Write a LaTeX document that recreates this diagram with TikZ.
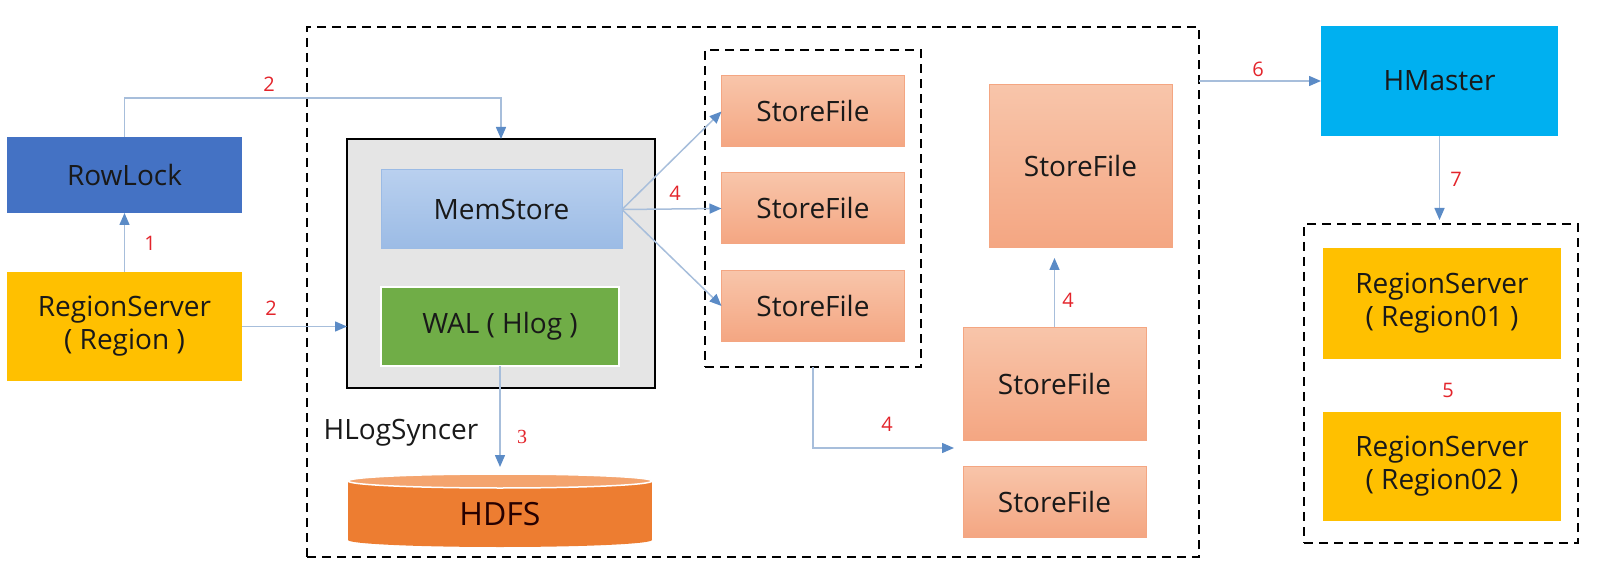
\documentclass[tikz,border=0pt]{standalone}
\usepackage{fontspec}
\setmainfont{Open Sans}
\newfontfamily\numserif{Liberation Serif}
\usetikzlibrary{arrows.meta}
\definecolor{rowblue}{HTML}{4472C4}
\definecolor{rsyellow}{HTML}{FFC000}
\definecolor{hmblue}{HTML}{00B0F0}
\definecolor{walgreen}{HTML}{70AD47}
\definecolor{memtop}{HTML}{B9D0EF}
\definecolor{membot}{HTML}{9BBBE5}
\definecolor{sftop}{HTML}{F8C5AA}
\definecolor{sfbot}{HTML}{F4A682}
\definecolor{hdfsbody}{HTML}{ED7D31}
\definecolor{hdfstop}{HTML}{F4A46E}
\definecolor{lineblue}{HTML}{A7BEDB}
\definecolor{tipblue}{HTML}{5B8BC6}
\definecolor{numred}{HTML}{E3242B}

\begin{document}
\begin{tikzpicture}[x=1pt, y=-1pt,
			block/.style      = {rectangle, inner sep=0pt, outer sep=0pt, text=black!90, align=center, font=\fontsize{28}{33}\selectfont},
			store_file/.style = {block, top color=sftop, bottom color=sfbot, draw=sfbot, line width=1pt, minimum width=183pt},
			group_box/.style  = {draw, black, line width=2pt, dash pattern=on 9pt off 6pt, inner sep=0pt, outer sep=0pt},
			flow/.style       = {draw=lineblue, line width=1.5pt, -{Triangle[length=12pt, width=10pt, color=tipblue]}},
			num/.style        = {text=numred, inner sep=0pt, font=\fontsize{20}{24}\selectfont},]
			
			\useasboundingbox (0,0) rectangle (1610,580);
			
			%% LEFT SIDE: CLIENT REQUEST
			\node[block, fill=rowblue, minimum width=235pt, minimum height=76pt] (rowlock) at (124.5,175) {RowLock};
			\node[block, fill=rsyellow, minimum width=235pt, minimum height=109pt] (regserver) at (124.5,326.5) {RegionServer\\( Region )};
			
			%% REGION SERVER (OUTER DASHED BOX)
			\node[group_box, minimum width=892pt, minimum height=530pt] (outer) at (753,292) {};
			\node[block, fill=gray!20, draw=black, line width=2.5pt, minimum width=308pt, minimum height=249pt] (hregion) at (501,263.5) {};
			\node[block, top color=memtop, bottom color=membot, draw=membot, line width=1pt, minimum width=241pt, minimum height=79pt] (memstore) at (501.5,209.5) {MemStore};
			\node[block, fill=walgreen, draw=white, line width=2pt, minimum width=238pt, minimum height=79pt] (wal) at (500,326.5) {WAL ( Hlog )};
			\node[block] (hlogsync) at (401,433) {HLogSyncer};
			
			% HDFS CYLINDER
			\fill[hdfsbody] (348,481) rectangle (652,540);
			\fill[hdfsbody] (500,540) ellipse [x radius=152, y radius=7];
			\filldraw[fill=hdfstop, draw=white, line width=1.5pt] (500,481) ellipse [x radius=152, y radius=7];
			\node[block, minimum width=304pt, minimum height=88pt, font=\fontsize{32}{38}\selectfont, text=black!85!red] (hdfs) at (500,514) {HDFS};
			
			% FLUSHED STORE FILES
			\node[group_box, minimum width=216pt, minimum height=317pt] (sfgroup) at (813,208.5) {};
			\node[store_file, minimum height=71pt] (sf_a) at (813,111.5) {StoreFile};
			\node[store_file, minimum height=71pt] (sf_b) at (813,208.5) {StoreFile};
			\node[store_file, minimum height=71pt] (sf_c) at (813,306) {StoreFile};
			
			% COMPACTION
			\node[store_file, minimum height=163pt] (sf_top) at (1080.5,166.5) {StoreFile};
			\node[store_file, minimum height=113pt] (sf_big) at (1054.5,383.5) {StoreFile};
			\node[store_file, minimum height=71pt] (sf_low) at (1054.5,501.5) {StoreFile};
			\coordinate (sf_merge) at (954,448);
			
			%% RIGHT SIDE: MASTER AND OTHER SERVERS
			\node[block, fill=hmblue, minimum width=237pt, minimum height=110pt] (hmaster) at (1439.5,81) {HMaster};
			\node[group_box, minimum width=274pt, minimum height=319pt] (rsgroup) at (1441,383.5) {};
			\node[block, fill=rsyellow, minimum width=238pt, minimum height=111pt] (rs_one) at (1442,303.5) {RegionServer\\( Region01 )};
			\node[block, fill=rsyellow, minimum width=238pt, minimum height=109pt] (rs_two) at (1442,466.5) {RegionServer\\( Region02 )};
			
			%% CONNECTORS
			\draw[flow] (regserver.north) -- (rowlock.south);
			\draw[flow] (rowlock.north) |- ([yshift=41pt]hregion.north) -- (hregion.north);
			\draw[flow] (regserver.east) -- (regserver.east -| hregion.west);
			\draw[flow] (wal.south) -- ([yshift=3pt]hdfs.north);
			\draw[flow] (memstore.east) -- (sf_a.west);
			\draw[flow] (memstore.east) -- (sf_b.west);
			\draw[flow] (memstore.east) -- (sf_c.west);
			\draw[flow] (sfgroup.south) |- (sf_merge);
			\draw[flow, shorten >=10pt] (sf_big.north) -- (sf_big.north |- sf_top.south);
			\draw[flow] (outer.east |- hmaster.west) -- (hmaster.west);
			\draw[flow, shorten >=4pt] (hmaster.south) -- (hmaster.south |- rsgroup.north);
			
			%% STEP NUMBERS
			\node[num] (num_one) at (150,243) {1};
			\node[num] (num_two_a) at (269,84) {2};
			\node[num] (num_two_b) at (271,308) {2};
			\node[num, font=\fontsize{20}{24}\numserif] (num_three) at (522,437) {3};
			\node[num] (num_four_a) at (675,193) {4};
			\node[num] (num_four_b) at (887,424) {4};
			\node[num] (num_four_c) at (1068,300) {4};
			\node[num] (num_five) at (1448,390) {5};
			\node[num] (num_six) at (1258,69) {6};
			\node[num] (num_seven) at (1456,179) {7};
\end{tikzpicture}
\end{document}
